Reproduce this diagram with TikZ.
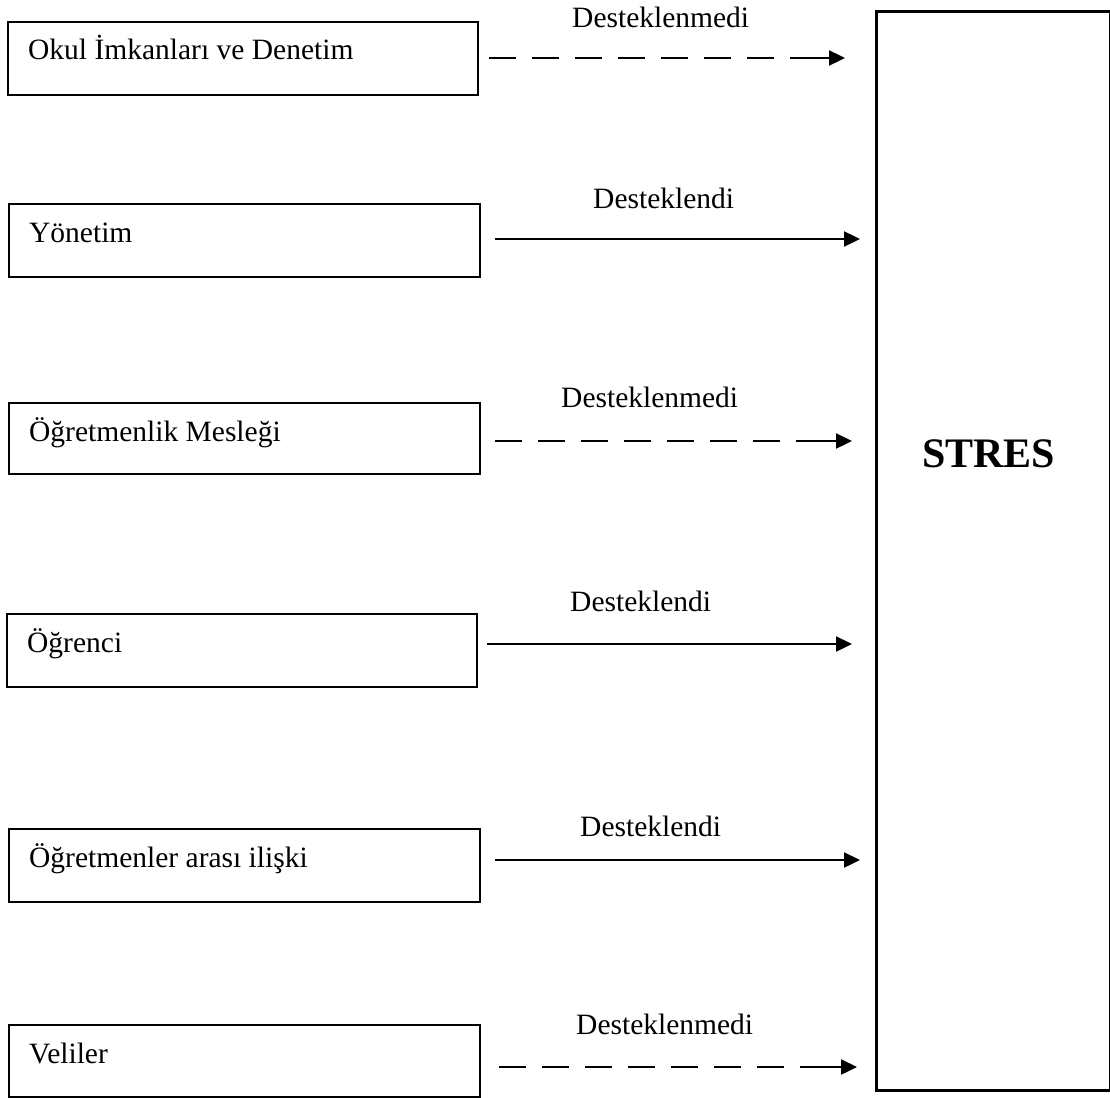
\documentclass[tikz,border=0pt]{standalone}
\usepackage{fontspec}
\setmainfont{Liberation Serif}
\usetikzlibrary{arrows.meta,calc}

\begin{document}
\begin{tikzpicture}[x=1pt,y=-1pt,
  factor/.style={draw,line width=2pt,rectangle,inner sep=0pt,anchor=north west,
    minimum width=#1},
  factor/.default=471pt,
  ftext/.style={anchor=base west,inner sep=0pt,font=\fontsize{29.5}{35}\selectfont},
  flabel/.style={anchor=base west,inner sep=0pt,font=\fontsize{29.5}{35}\selectfont},
  stresbox/.style={draw,line width=2.6pt,rectangle,inner sep=0pt,anchor=north west,
    minimum width=234pt,minimum height=1079pt},
  supported/.style={line width=2.3pt,-{Triangle[length=16pt,width=15pt]}},
  unsupported/.style={supported,
    dash pattern=on 27pt off 16pt on 27pt off 16pt on 27pt off 16pt on 27pt off 16pt
                 on 27pt off 16pt on 27pt off 16pt on 27pt off 16pt on 300pt off 1pt},
]
\useasboundingbox (0,0) rectangle (1110,1097);

% outcome box
\node[stresbox] (stres) at (875,10) {};
\node[anchor=base west,inner sep=0pt,font=\fontsize{42}{48}\selectfont\bfseries]
  (strestext) at (922,467) {STRES};

% factor boxes
\node[factor=470pt,minimum height=73pt] (b1) at (7,21) {};
\node[factor,minimum height=73pt] (b2) at (8,203) {};
\node[factor,minimum height=71pt] (b3) at (8,402) {};
\node[factor=470pt,minimum height=73pt] (b4) at (6,613) {};
\node[factor,minimum height=73pt] (b5) at (8,828) {};
\node[factor,minimum height=72pt] (b6) at (8,1024) {};

% factor names
\node[ftext] (t1) at ($(b1.north west)+(21,39)$) {Okul İmkanları ve Denetim};
\node[ftext] (t2) at ($(b2.north west)+(21,39)$) {Yönetim};
\node[ftext] (t3) at ($(b3.north west)+(21,39)$) {Öğretmenlik Mesleği};
\node[ftext] (t4) at ($(b4.north west)+(21,39)$) {Öğrenci};
\node[ftext] (t5) at ($(b5.north west)+(21,39)$) {Öğretmenler arası ilişki};
\node[ftext] (t6) at ($(b6.north west)+(21,39)$) {Veliler};

% hypothesis results
\node[flabel] (l1) at (572,28) {Desteklenmedi};
\node[flabel] (l2) at (593,208) {Desteklendi};
\node[flabel] (l3) at (561,407) {Desteklenmedi};
\node[flabel] (l4) at (570,611) {Desteklendi};
\node[flabel] (l5) at (580,836) {Desteklendi};
\node[flabel] (l6) at (576,1034) {Desteklenmedi};

% paths to stress
\draw[unsupported,shorten <=10pt,shorten >=30pt]
  ($(b1.east)+(0,-0.5)$) -- ($(b1.east -| stres.west)+(0,-0.5)$);
\draw[supported,shorten <=14pt,shorten >=15pt]
  ($(b2.east)+(0,-1.5)$) -- ($(b2.east -| stres.west)+(0,-1.5)$);
\draw[unsupported,shorten <=14pt,shorten >=23pt]
  ($(b3.east)+(0,2.5)$) -- ($(b3.east -| stres.west)+(0,2.5)$);
\draw[supported,shorten <=9pt,shorten >=23pt]
  ($(b4.east)+(0,-6.5)$) -- ($(b4.east -| stres.west)+(0,-6.5)$);
\draw[supported,shorten <=14pt,shorten >=15pt]
  ($(b5.east)+(0,-5.5)$) -- ($(b5.east -| stres.west)+(0,-5.5)$);
\draw[unsupported,shorten <=18pt,shorten >=18pt]
  ($(b6.east)+(0,6)$) -- ($(b6.east -| stres.west)+(0,6)$);
\end{tikzpicture}
\end{document}
